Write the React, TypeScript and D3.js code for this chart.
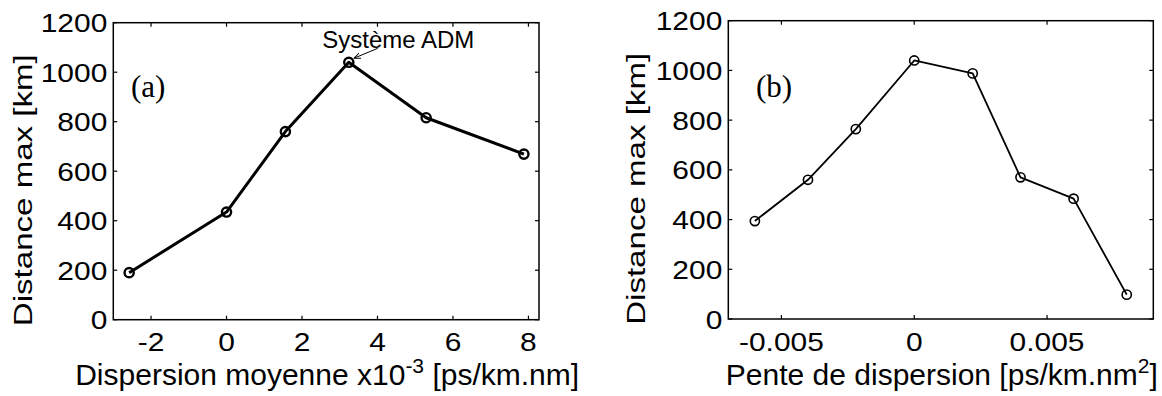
import React from "react";
import * as d3 from "d3";

// ---------- data ----------
const DISP_A = [-2.58, 0, 1.56, 3.24, 5.29, 7.88];
const DIST_A = [190, 435, 760, 1040, 816, 669];
const SLOPE_B = [-0.006, -0.004, -0.0022, 0, 0.0022, 0.004, 0.006, 0.008];
const DIST_B = [394, 560, 764, 1040, 988, 570, 484, 98];
const Y_TICKS = [0, 200, 400, 600, 800, 1000, 1200];
const X_TICKS_A = [-2, 0, 2, 4, 6, 8];
const X_TICKS_B = [-0.005, 0, 0.005];
const ANNOT_TEXT = "Système ADM";
const ANNOT_X = 3.24;
const ANNOT_Y = 1040;

const SANS = "'Liberation Sans', Arial, Helvetica, sans-serif";
const SERIF = "'Liberation Serif', 'Times New Roman', serif";

type PanelProps = {
  left: number;
  right: number;
  top: number;
  bottom: number;
  xDomain: [number, number];
  xs: number[];
  ys: number[];
  xTicks: number[];
  lineWidth: number;
  markerStroke: number;
  tag: string;
  tagX: number;
  tagY: number;
  yLabelX: number;
  xLabel: React.ReactNode;
  children?: (x: d3.ScaleLinear<number, number>, y: d3.ScaleLinear<number, number>) => React.ReactNode;
};

function Panel(p: PanelProps) {
  const x = d3.scaleLinear().domain(p.xDomain).range([p.left, p.right]);
  const y = d3.scaleLinear().domain([0, 1200]).range([p.bottom, p.top]);
  const line = d3
    .line<number>()
    .x((_, i) => x(p.xs[i]))
    .y((d) => y(d));
  const tl = 4;
  const sx = 1.13;
  return (
    <g>
      {p.xTicks.map((t) => (
        <g key={"xt" + t}>
          <line x1={x(t)} x2={x(t)} y1={p.bottom} y2={p.bottom - tl} stroke="#000" strokeWidth={1.2} />
          <line x1={x(t)} x2={x(t)} y1={p.top} y2={p.top + tl} stroke="#000" strokeWidth={1.2} />
          <text
            transform={`translate(${x(t)},350.5) scale(${sx},1)`}
            textAnchor="middle"
            fontFamily={SANS}
            fontSize={26.5}
          >
            {String(t)}
          </text>
        </g>
      ))}
      {Y_TICKS.map((t) => (
        <g key={"yt" + t}>
          <line x1={p.left} x2={p.left + tl} y1={y(t)} y2={y(t)} stroke="#000" strokeWidth={1.2} />
          <line x1={p.right} x2={p.right - tl} y1={y(t)} y2={y(t)} stroke="#000" strokeWidth={1.2} />
          <text
            transform={`translate(${p.left - 6},${y(t) + 9.5}) scale(${sx},1)`}
            textAnchor="end"
            fontFamily={SANS}
            fontSize={26.5}
          >
            {String(t)}
          </text>
        </g>
      ))}
      <rect
        x={p.left}
        y={p.top}
        width={p.right - p.left}
        height={p.bottom - p.top}
        fill="none"
        stroke="#000"
        strokeWidth={1.5}
      />
      <path d={line(p.ys) || ""} fill="none" stroke="#000" strokeWidth={p.lineWidth} strokeLinejoin="round" />
      {p.ys.map((v, i) => (
        <circle
          key={"m" + i}
          cx={x(p.xs[i])}
          cy={y(v)}
          r={4.6}
          fill="none"
          stroke="#000"
          strokeWidth={p.markerStroke}
        />
      ))}
      <text x={p.tagX} y={p.tagY} fontFamily={SERIF} fontSize={31}>
        {p.tag}
      </text>
      <text
        transform={`translate(${p.yLabelX},${(p.top + p.bottom) / 2 + 19}) rotate(-90)`}
        textAnchor="middle"
        fontFamily={SANS}
        fontSize={26}
        textLength={272}
        lengthAdjust="spacingAndGlyphs"
      >
        Distance max [km]
      </text>
      <text x={(p.left + p.right) / 2 + 1} y={385} textAnchor="middle" fontFamily={SANS} fontSize={30}>
        {p.xLabel}
      </text>
      {p.children ? p.children(x, y) : null}
    </g>
  );
}

export default function App() {
  return (
    <svg
      width={1162}
      height={396}
      viewBox="0 0 1162 396"
      style={{ position: "absolute", left: 0, top: 0, background: "#fff" }}
    >
      <defs>
        <marker id="arr" viewBox="0 0 10 10" refX="10" refY="5" markerWidth="7" markerHeight="7" orient="auto">
          <path d="M0,1 L10,5 L0,9" fill="none" stroke="#000" strokeWidth={1.4} />
        </marker>
      </defs>
      <Panel
        left={113.3}
        right={539}
        top={22.7}
        bottom={319.7}
        xDomain={[-3, 8.28]}
        xs={DISP_A}
        ys={DIST_A}
        xTicks={X_TICKS_A}
        lineWidth={3}
        markerStroke={2.4}
        tag="(a)"
        tagX={131}
        tagY={97}
        yLabelX={32}
        xLabel={
          <>
            Dispersion moyenne x10
            <tspan fontSize={21} dy={-12}>-3</tspan>
            <tspan dy={12}> [ps/km.nm]</tspan>
          </>
        }
      >
        {(x, y) => {
          const tx = x(ANNOT_X);
          const ty = y(ANNOT_Y);
          return (
            <g>
              <line
                x1={tx + 29}
                y1={ty - 14}
                x2={tx + 5}
                y2={ty - 4}
                stroke="#000"
                strokeWidth={1}
                markerEnd="url(#arr)"
              />
              <text x={tx - 26.5} y={ty - 14} fontFamily={SANS} fontSize={24}>
                {ANNOT_TEXT}
              </text>
            </g>
          );
        }}
      </Panel>
      <Panel
        left={728.3}
        right={1153.3}
        top={20.7}
        bottom={319}
        xDomain={[-0.007, 0.009]}
        xs={SLOPE_B}
        ys={DIST_B}
        xTicks={X_TICKS_B}
        lineWidth={1.8}
        markerStroke={1.6}
        tag="(b)"
        tagX={756}
        tagY={97}
        yLabelX={645}
        xLabel={
          <>
            Pente de dispersion [ps/km.nm
            <tspan fontSize={21} dy={-12}>2</tspan>
            <tspan dy={12}>]</tspan>
          </>
        }
      />
    </svg>
  );
}
